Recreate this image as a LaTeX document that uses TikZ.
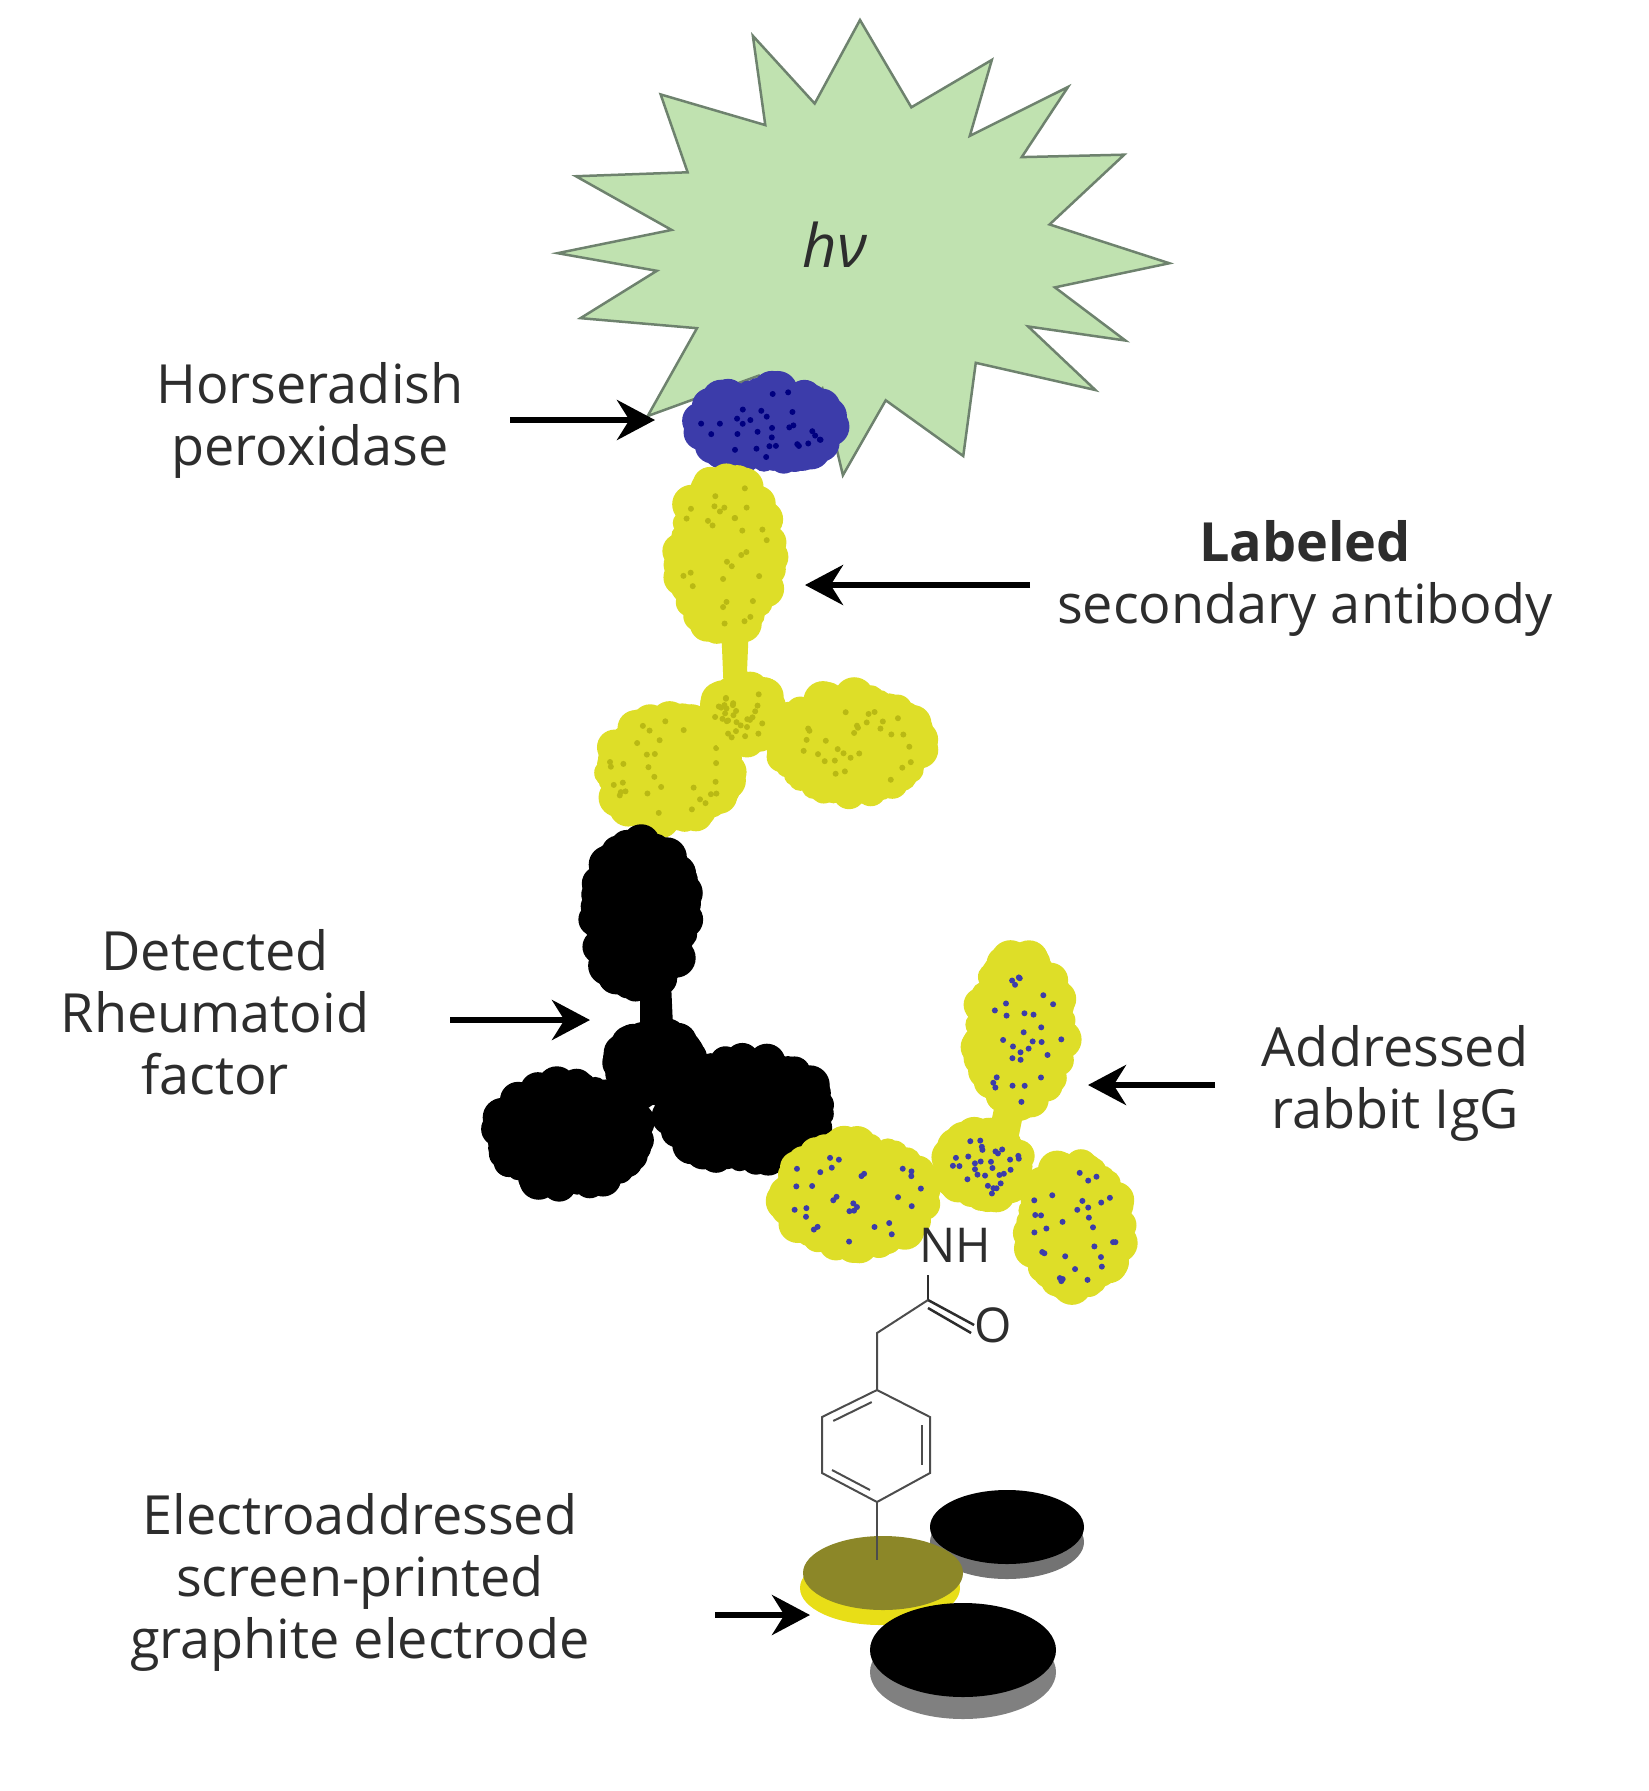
\documentclass[tikz,border=0pt]{standalone}
\usepackage{fontspec}
\setmainfont{Open Sans}
\usetikzlibrary{arrows.meta,calc}
\definecolor{star}{RGB}{192,226,176}
\definecolor{staredge}{RGB}{110,130,110}
\definecolor{ab}{RGB}{222,222,40}
\definecolor{abd}{RGB}{185,185,20}
\definecolor{hrp}{RGB}{60,60,170}
\definecolor{txt}{RGB}{45,45,45}
\definecolor{olive}{RGB}{140,135,40}
\newcommand\myblob[6]{% cx cy rx ry fill speck
  \fill[#5] (#1,#2) ellipse[x radius=#3,y radius=#4];
  \foreach \k in {1,...,36}{
    \pgfmathsetmacro\ang{\k*10+rnd*8}
    \pgfmathsetmacro\rr{10+rnd*10}
    \fill[#5] ({#1+#3*cos(\ang)},{#2+#4*sin(\ang)}) circle[radius=\rr];
  }
  \foreach \k in {1,...,30}{
    \pgfmathsetmacro\ang{rnd*360}
    \pgfmathsetmacro\rf{sqrt(rnd)}
    \fill[#6] ({#1+#3*\rf*cos(\ang)},{#2+#4*\rf*sin(\ang)}) circle[radius=3];
  }
}
\tikzset{lab/.style={text=txt,font=\fontsize{54}{62}\selectfont,align=center},
  arr/.style={line width=6pt,-{Stealth[length=38pt,width=40pt]}},
  bond/.style={line width=2pt,gray!60!black}}
\begin{document}
\begin{tikzpicture}[x=1pt,y=-1pt]
\pgfmathsetseed{7}
\useasboundingbox (0,0) rectangle (1649,1791);
% star
\filldraw[fill=star,draw=staredge,line width=2.5pt]
 plot[samples at={0,...,31},variable=\i]
 ({860+(300+12*sin(\i*97))*(mod(\i,2)==0?1:0.66)*cos(\i*11.25-90+4*sin(\i*53))},{250+(220+10*cos(\i*71))*(mod(\i,2)==0?1:0.66)*sin(\i*11.25-90+4*sin(\i*53))}) -- cycle;
\node[font=\fontsize{60}{60}\selectfont\rmfamily\itshape,text=txt] (hv) at (835,245) {hν};
% HRP
\myblob{765}{425}{65}{35}{hrp}{blue!50!black}
% secondary antibody
\fill[ab] (720,600) -- (750,600) -- (745,720) -- (725,720) -- cycle;
\myblob{725}{555}{45}{75}{ab}{abd}
\myblob{668}{770}{60}{50}{ab}{abd}
\myblob{850}{745}{70}{48}{ab}{abd}
\myblob{745}{715}{30}{25}{ab}{abd}
% rheumatoid factor
\fill[black] (640,960) -- (670,960) -- (675,1070) -- (640,1070) -- cycle;
\myblob{640}{915}{45}{72}{black}{black}
\myblob{568}{1135}{70}{50}{black}{black}
\myblob{745}{1110}{75}{50}{black}{black}
\myblob{655}{1065}{35}{30}{black}{black}
% rabbit IgG
\fill[ab] (1000,1080) -- (1030,1080) -- (1010,1180) -- (980,1175) -- cycle;
\myblob{1020}{1030}{42}{72}{ab}{hrp}
\myblob{1075}{1225}{45}{60}{ab}{hrp}
\myblob{855}{1195}{70}{50}{ab}{hrp}
\myblob{985}{1165}{35}{30}{ab}{hrp}
% linker
\node[font=\fontsize{48}{48}\selectfont,text=txt,inner sep=0] (nh) at (955,1245) {NH};
\node[font=\fontsize{48}{48}\selectfont,text=txt,inner sep=0] (o) at (993,1325) {O};
\coordinate (c) at (928,1300);
\coordinate (ch) at (877,1333);
\coordinate (r1) at (877,1390);
\coordinate (r2) at (930,1417);
\coordinate (r3) at (930,1473);
\coordinate (r4) at (877,1502);
\coordinate (r5) at (822,1473);
\coordinate (r6) at (822,1417);
\draw[line width=2.5pt,txt] (928,1275) -- (c);
\draw[line width=2.5pt,txt] (c) -- (o.west);
\draw[line width=2.5pt,txt] ([yshift=-8]c) -- ([yshift=-8,xshift=-3]o.west);
\draw[bond] (c) -- (ch) -- (r1);
\draw[bond] (r1) -- (r2) -- (r3) -- (r4) -- (r5) -- (r6) -- cycle;
\draw[bond] ($(r6)!0.15!(r1)+(3,8)$) -- ($(r6)!0.85!(r1)+(3,8)$);
\draw[bond] (922,1425) -- (922,1465);
\draw[bond] (832,1470) -- (870,1490);
% electrodes
\fill[black!55] (1007,1542) ellipse[x radius=77,y radius=37];
\fill[black] (1007,1527) ellipse[x radius=77,y radius=37];
\fill[yellow!90!black] (880,1588) ellipse[x radius=80,y radius=37];
\fill[olive] (883,1573) ellipse[x radius=80,y radius=37];
\draw[bond] (r4) -- (877,1560);
\fill[black!50] (963,1672) ellipse[x radius=93,y radius=47];
\fill[black] (963,1650) ellipse[x radius=93,y radius=47];
% labels
\node[lab] (l1) at (310,420) {Horseradish\\peroxidase};
\node[lab] (l2) at (1305,578) {\textbf{Labeled}\\secondary antibody};
\node[lab] (l3) at (215,1012) {Detected\\Rheumatoid\\factor};
\node[lab] (l4) at (1395,1083) {Addressed\\rabbit IgG};
\node[lab] (l5) at (360,1582) {Electroaddressed\\screen-printed\\graphite electrode};
\draw[arr] (510,420) -- (655,420);
\draw[arr] (1030,585) -- (805,585);
\draw[arr] (450,1020) -- (590,1020);
\draw[arr] (1215,1085) -- (1088,1085);
\draw[arr] (715,1615) -- (810,1615);
\end{tikzpicture}
\end{document}
